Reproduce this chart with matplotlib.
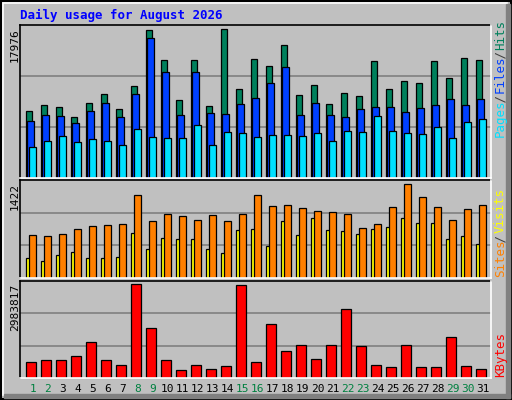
import matplotlib
matplotlib.use('Agg')
import matplotlib.pyplot as plt
from matplotlib.patches import Rectangle

days = list(range(1, 32))
weekend = [1, 2, 8, 9, 15, 16, 22, 23, 29, 30]
hits = [8138, 8867, 8624, 7409, 9110, 10081, 8381, 11053, 17855, 14211, 9352, 14211, 8745, 17976, 10688, 14332,
        13482, 16033, 9960, 11174, 8988, 10203, 9838, 14089, 10688, 11660, 11417, 14089, 12024, 14454, 14211]
files = [6923, 7652, 7531, 6680, 8138, 9110, 7409, 10081, 16883, 12753, 7652, 12753, 7895, 7773, 8988, 9595,
         11417, 13361, 7652, 9110, 7652, 7409, 8381, 8624, 8624, 8016, 8502, 8867, 9474, 8867, 9474]
pages = [3765, 4494, 5101, 4373, 4737, 4494, 4008, 5952, 4980, 4858, 4858, 6437, 4008, 5587, 5466, 4980,
         5223, 5223, 5101, 5466, 4494, 5709, 5587, 7531, 5709, 5466, 5344, 6194, 4858, 6802, 7166]
visits = [646, 631, 662, 739, 786, 801, 817, 1251, 864, 972, 941, 879, 957, 864, 972, 1251,
          1096, 1112, 1065, 1019, 1003, 972, 755, 817, 1081, 1422, 1220, 1081, 879, 1050, 1112]
sites = [305, 259, 352, 398, 305, 305, 321, 677, 445, 600, 584, 584, 445, 383, 724, 739,
         491, 864, 646, 910, 724, 708, 662, 739, 770, 910, 833, 833, 584, 631, 522]
kbytes = [524640, 557430, 557430, 688590, 1147650, 557430, 426270, 2983817, 1606710, 557430, 262320, 426270,
          295110, 393480, 2951100, 524640, 1705080, 852540, 1049280, 590220, 1049280, 2196930, 1016490, 426270,
          360690, 1049280, 360690, 360690, 1311600, 393480, 295110]

W, H = 512, 400
BG = '#c0c0c0'
fig = plt.figure(figsize=(W / 100, H / 100), dpi=100, facecolor=BG)
mono = 'DejaVu Sans Mono'

def px_axes(l, t, r, b):
    ax = fig.add_axes([l / W, 1 - b / H, (r - l) / W, (b - t) / H])
    ax.set_facecolor(BG)
    ax.set_xlim(l, r)
    ax.set_xticks([])
    ax.set_yticks([])
    for s in ax.spines.values():
        s.set_visible(False)
    # 3D-ish frame: black top/left, white bottom/right
    tr = ax.get_xaxis_transform()
    ax.plot([l, l], [0, 1], color='black', lw=1.2, transform=tr, clip_on=False)
    ax.plot([l, r], [1, 1], color='black', lw=1.2, transform=tr, clip_on=False)
    ax.plot([r, r], [0, 1], color='white', lw=1.2, transform=tr, clip_on=False)
    ax.plot([l, r], [0, 0], color='white', lw=1.2, transform=tr, clip_on=False)
    return ax

def grid(ax, top):
    ax.set_ylim(0, top)
    for g in (top / 3, 2 * top / 3):
        ax.axhline(g, color='#808080', lw=1.2, zorder=0)

# outer frame
ov = fig.add_axes([0, 0, 1, 1])
ov.set_xlim(0, W)
ov.set_ylim(H, 0)
ov.axis('off')
ov.add_patch(Rectangle((1, 1), W - 2, H - 2, fill=False, ec='black', lw=1.5))
ov.add_patch(Rectangle((3, 3), W - 8, H - 8, fill=False, ec='white', lw=1.2))
ov.add_patch(Rectangle((W - 6, 4), 4, H - 6, color='#808080'))
ov.add_patch(Rectangle((4, H - 6), W - 6, 4, color='#808080'))

x0 = [25.7 + 15 * i for i in range(31)]

ax1 = px_axes(20, 25, 491, 178)
grid(ax1, 18462)
ax1.bar([x + 3.3 for x in x0], hits, width=6.6, color='#00805c', ec='black', lw=0.9)
ax1.bar([x + 4.7 for x in x0], files, width=7.4, color='#0040ff', ec='black', lw=0.9)
ax1.bar([x + 7.0 for x in x0], pages, width=7.0, color='#00e0ff', ec='black', lw=0.9)

ax2 = px_axes(20, 180, 491, 278)
grid(ax2, 1484)
ax2.bar([x + 4.3 for x in x0], sites, width=8.6, color='#ffff00', ec='black', lw=0.9)
ax2.bar([x + 7.0 for x in x0], visits, width=7.0, color='#ff8000', ec='black', lw=0.9)

ax3 = px_axes(20, 281, 491, 378)
grid(ax3, 3089000)
ax3.bar([x + 5.3 for x in x0], kbytes, width=10.0, color='#ff0000', ec='black', lw=0.9)

ov.text(20, 15, 'Daily usage for August 2026', color='#0000ff', fontsize=9, fontweight='bold',
        family=mono, va='center', ha='left')
for y, v in [(28, max(hits)), (183, max(visits)), (284, max(kbytes))]:
    ov.text(15, y, str(v), rotation=90, fontsize=8, family=mono, ha='center', va='top')

STEP = 5.45
def vlabel(y_bottom, parts):
    y = y_bottom
    for txt, col in parts:
        ov.text(504, y, txt, rotation=90, rotation_mode='anchor', color=col, fontsize=9,
                family=mono, ha='left', va='baseline')
        y -= len(txt) * STEP

vlabel(137, [('Pages', '#00e0ff'), (' / ', '#404040'), ('Files', '#0040ff'), (' / ', '#404040'), ('Hits', '#00805c')])
vlabel(277, [('Sites', '#ff8000'), (' / ', '#404040'), ('Visits', '#ffff00')])
vlabel(377, [('KBytes', '#ff0000')])

for i, d in enumerate(days):
    ov.text(x0[i] + 7, 389, str(d), fontsize=8, family=mono, ha='center', va='center',
            color='#008040' if d in weekend else 'black')

fig.savefig('out.png', dpi=100, facecolor=BG)
